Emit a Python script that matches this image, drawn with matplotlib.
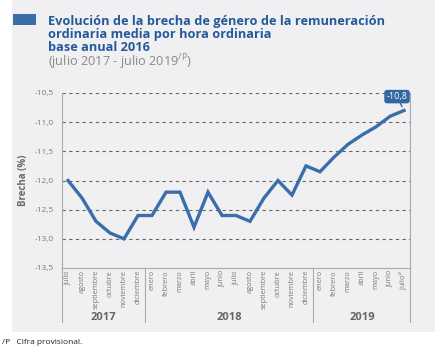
import matplotlib
matplotlib.use('Agg')
import matplotlib.pyplot as plt
from matplotlib.patches import Rectangle

plt.rcParams['font.family'] = ['Open Sans', 'DejaVu Sans']

# data: brecha de genero (%), julio 2017 - julio 2019
meses = ['julio', 'agosto', 'septiembre', 'octubre', 'noviembre', 'diciembre',
         'enero', 'febrero', 'marzo', 'abril', 'mayo', 'junio', 'julio',
         'agosto', 'septiembre', 'octubre', 'noviembre', 'diciembre',
         'enero', 'febrero', 'marzo', 'abril', 'mayo', 'junio', 'julio$^{\\mathregular{P}}$']
brecha = [-12.0, -12.3, -12.7, -12.9, -13.0, -12.6,
          -12.6, -12.2, -12.2, -12.8, -12.2, -12.6, -12.6,
          -12.7, -12.3, -12.0, -12.25, -11.75,
          -11.85, -11.6, -11.38, -11.22, -11.08, -10.9, -10.8]
anios = ['2017', '2018', '2019']
anio_centro = [2.5, 11.5, 21.0]
separadores = [5.5, 17.5]
yticks = [-13.5, -13.0, -12.5, -12.0, -11.5, -11.0, -10.5]

azul = '#3a6ea8'
azul_tit = '#24599a'
gris = '#7a7a7a'
fondo = '#f0f0f3'

fig = plt.figure(figsize=(4.4, 3.64), dpi=100)
fig.patch.set_facecolor('white')
# gray panel
fig.patches.append(Rectangle((12 / 440, 1 - 332 / 364), (435 - 12) / 440, 332 / 364,
                             transform=fig.transFigure, facecolor=fondo, edgecolor='none', zorder=-10))
# title block
fig.patches.append(Rectangle((13 / 440, 1 - 25 / 364), 23 / 440, 11 / 364,
                             transform=fig.transFigure, facecolor=azul, edgecolor='none', zorder=-5))
tit = ['Evolución de la brecha de género de la remuneración',
       'ordinaria media por hora ordinaria',
       'base anual 2016']
for i, t in enumerate(tit):
    fig.text(48 / 440, 1 - (24.5 + 13.3 * i) / 364, t, fontsize=9.2, fontweight='bold',
             color=azul_tit, va='baseline')
fig.text(48 / 440, 1 - 66.5 / 364, '(julio 2017 - julio 2019$^{\\mathregular{/P}}$)',
         fontsize=9.2, color='#8a8a8a', va='baseline')
fig.text(2 / 440, 1 - 344 / 364, '/P   Cifra provisional.', fontsize=6, color='#222222',
         va='baseline')

ax = fig.add_axes([62 / 440, 1 - 268 / 364, 348 / 440, 175 / 364])
ax.set_facecolor(fondo)
x = list(range(len(brecha)))
ax.plot(x, brecha, color=azul, lw=2.4, solid_joinstyle='miter', zorder=3)
ax.set_xlim(-0.43, 24.43)
ax.set_ylim(-13.5, -10.5)
ax.set_yticks(yticks)
ax.set_yticklabels([('%.1f' % v).replace('.', ',') for v in yticks])
ax.tick_params(axis='y', length=0, labelsize=6, labelcolor=gris, pad=6)
ax.set_xticks([])
for v in yticks[1:]:
    ax.axhline(v, color='#666666', lw=0.8, ls=(0, (3, 3)), zorder=1)
ax.spines['top'].set_visible(False)
for s in ['left', 'right', 'bottom']:
    ax.spines[s].set_color('#aaaaaa')
    ax.spines[s].set_linewidth(0.8)
ax.set_ylabel('Brecha (%)', fontsize=7, fontweight='bold', color='#6a6a6a', labelpad=4)

# month labels and year groups below the axis
tr = ax.get_xaxis_transform()
for i, m in enumerate(meses):
    ax.text(i, -0.012, m, transform=tr, rotation=90, ha='center', va='top',
            fontsize=5.3, color=gris, clip_on=False)
for c, a in zip(anio_centro, anios):
    ax.text(c, -0.285, a, transform=tr, ha='center', va='center', fontsize=8,
            fontweight='bold', color='#666666', clip_on=False)
for s in separadores + [-0.43, 24.43]:
    ax.plot([s, s], [0, -0.31], transform=tr, color='#aaaaaa', lw=0.8, clip_on=False)

# last value callout
ax.annotate(('%.1f' % brecha[-1]).replace('.', ','), xy=(x[-1], brecha[-1]),
            xytext=(-5, 10), textcoords='offset points', ha='center', va='center',
            fontsize=6.5, color='white',
            bbox=dict(boxstyle='round,pad=0.25,rounding_size=0.3', fc='#3566a3', ec='none'),
            arrowprops=dict(arrowstyle='-', color='#3566a3', lw=1, shrinkA=0, shrinkB=3),
            zorder=5)

fig.savefig('out.png', dpi=100, facecolor='white')
